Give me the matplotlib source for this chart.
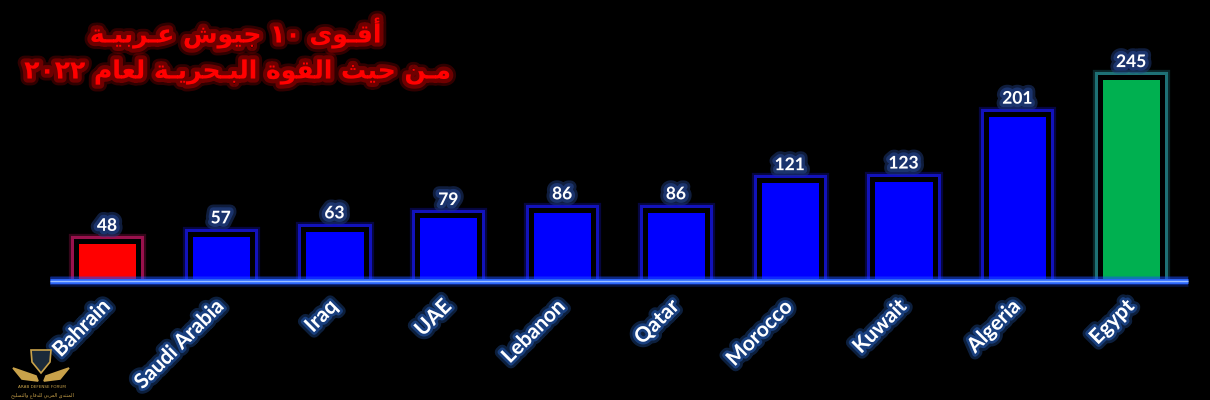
import re
import matplotlib
matplotlib.use('Agg')
import matplotlib.pyplot as plt
import matplotlib.patheffects as pe
from matplotlib.patches import Polygon

# data
countries = ['Bahrain', 'Saudi Arabia', 'Iraq', 'UAE', 'Lebanon',
             'Qatar', 'Morocco', 'Kuwait', 'Algeria', 'Egypt']
ships = [48, 57, 63, 79, 86, 86, 121, 123, 201, 245]
bar_colors = ['#ff0000'] + ['#0000ff'] * 8 + ['#00b050']
glow_colors = ['#d0186a'] + ['#1a1aff'] * 8 + ['#2a9aa0']

title_1 = 'أقـوى ١٠ جيوش عـربيـة'
title_2 = 'مـن حيث القوة البـحريـة لعام ٢٠٢٢'
logo_en = 'ARAB DEFENSE FORUM'
logo_ar = 'المنتدى العربي للدفاع والتسليح'

# arabic presentation forms: isolated, final, initial, medial
FORMS = {
    'ا': ('\uFE8D', '\uFE8E', None, None),
    'أ': ('\uFE83', '\uFE84', None, None),
    'ب': ('\uFE8F', '\uFE90', '\uFE91', '\uFE92'),
    'ة': ('\uFE93', '\uFE94', None, None),
    'ت': ('\uFE95', '\uFE96', '\uFE97', '\uFE98'),
    'ث': ('\uFE99', '\uFE9A', '\uFE9B', '\uFE9C'),
    'ج': ('\uFE9D', '\uFE9E', '\uFE9F', '\uFEA0'),
    'ح': ('\uFEA1', '\uFEA2', '\uFEA3', '\uFEA4'),
    'د': ('\uFEA9', '\uFEAA', None, None),
    'ر': ('\uFEAD', '\uFEAE', None, None),
    'س': ('\uFEB1', '\uFEB2', '\uFEB3', '\uFEB4'),
    'ش': ('\uFEB5', '\uFEB6', '\uFEB7', '\uFEB8'),
    'ع': ('\uFEC9', '\uFECA', '\uFECB', '\uFECC'),
    'ف': ('\uFED1', '\uFED2', '\uFED3', '\uFED4'),
    'ق': ('\uFED5', '\uFED6', '\uFED7', '\uFED8'),
    'ل': ('\uFEDD', '\uFEDE', '\uFEDF', '\uFEE0'),
    'م': ('\uFEE1', '\uFEE2', '\uFEE3', '\uFEE4'),
    'ن': ('\uFEE5', '\uFEE6', '\uFEE7', '\uFEE8'),
    'و': ('\uFEED', '\uFEEE', None, None),
    'ى': ('\uFEEF', '\uFEF0', None, None),
    'ي': ('\uFEF1', '\uFEF2', '\uFEF3', '\uFEF4'),
    'ـ': ('ـ', 'ـ', 'ـ', 'ـ'),
}


def shape_arabic(text):
    # lam + alef ligature
    text = text.replace('لا', '\uFEFB')
    out = []
    for i, c in enumerate(text):
        if c not in FORMS and c != '\uFEFB':
            out.append(c)
            continue
        prev = text[i - 1] if i > 0 else None
        nxt = text[i + 1] if i + 1 < len(text) else None
        join_prev = prev in FORMS and FORMS[prev][2] is not None
        if c == '\uFEFB':
            out.append('\uFEFC' if join_prev else c)
            continue
        join_next = (nxt in FORMS or nxt == '\uFEFB') and FORMS[c][2] is not None
        iso, fin, ini, med = FORMS[c]
        if join_prev and join_next:
            out.append(med)
        elif join_prev:
            out.append(fin)
        elif join_next:
            out.append(ini)
        else:
            out.append(iso)
    visual = ''.join(out)[::-1]
    # digits stay left to right
    return re.sub('[٠-٩]+', lambda m: m.group(0)[::-1], visual)


def glow(color, widths=(10, 6), alphas=(0.25, 0.55)):
    effects = [pe.Stroke(linewidth=w, foreground=color, alpha=a)
               for w, a in zip(widths, alphas)]
    return effects + [pe.Normal()]


fig = plt.figure(figsize=(12.1, 4), dpi=100, facecolor='black')
ax = fig.add_axes([50 / 1210, 119 / 400, 1138 / 1210, 261 / 400])
ax.set_facecolor('black')

x = list(range(len(countries)))
bars = ax.bar(x, ships, width=0.545, color=bar_colors,
              edgecolor='black', linewidth=3.6)
for b, g in zip(bars, glow_colors):
    b.set_path_effects([pe.Stroke(linewidth=11, foreground=g, alpha=0.25),
                        pe.Stroke(linewidth=8, foreground=g, alpha=0.65),
                        pe.Normal()])

for xi, v in zip(x, ships):
    ax.annotate(str(v), (xi, v), xytext=(0, 11), textcoords='offset points',
                ha='center', va='center', color='white', fontsize=12.5,
                fontfamily='Lato', fontweight='bold',
                path_effects=glow('#1f3a7a', (9, 5), (0.5, 0.8)))

ax.axhline(0, color='#2f6bff', lw=3.5, clip_on=False, solid_capstyle='butt',
           path_effects=glow('#1a4cff', (8, 6), (0.2, 0.4)))
ax.axhline(0, color='#9cc0ff', lw=1, clip_on=False, solid_capstyle='butt')

ax.set_xlim(-0.5, 9.5)
ax.set_ylim(0, 314)
ax.set_xticks(x)
ax.set_xticklabels(countries, rotation=45, ha='right', va='center',
                   rotation_mode='anchor', color='white', fontsize=15,
                   fontfamily='Lato', fontweight='bold')
for t in ax.get_xticklabels():
    t.set_path_effects(glow('#1f4e9a', (8, 4), (0.4, 0.7)))
ax.tick_params(axis='x', length=0, pad=16)
ax.set_yticks([])
for s in ax.spines.values():
    s.set_visible(False)

# title
red_glow = glow('#8b0000', (10, 6), (0.35, 0.7))
fig.text(236 / 1210, 1 - 33 / 400, shape_arabic(title_1), ha='center',
         va='center', color='#ff0000', fontsize=18, fontweight='bold',
         fontfamily='DejaVu Sans', path_effects=red_glow)
fig.text(238 / 1210, 1 - 72 / 400, shape_arabic(title_2), ha='center',
         va='center', color='#ff0000', fontsize=18, fontweight='bold',
         fontfamily='DejaVu Sans', path_effects=red_glow)

# small logo watermark
gold = '#c9a24a'
logo = [
    [(31, 350), (51, 350), (50, 362), (41, 373), (32, 362)],
    [(13, 368), (36, 376), (38, 381), (22, 379)],
    [(69, 368), (46, 376), (44, 381), (60, 379)],
]
for i, pts in enumerate(logo):
    fig.patches.append(Polygon([(px / 1210, 1 - py / 400) for px, py in pts],
                               closed=True, transform=fig.transFigure,
                               facecolor='#1b2a3a' if i == 0 else gold,
                               edgecolor=gold, lw=1.2))
fig.text(42 / 1210, 1 - 387 / 400, logo_en, ha='center',
         va='center', color=gold, fontsize=3)
fig.text(42 / 1210, 1 - 395 / 400, shape_arabic(logo_ar), ha='center',
         va='center', color=gold, fontsize=3.5, fontfamily='DejaVu Sans')

fig.savefig('out.png', dpi=100, facecolor='black')
